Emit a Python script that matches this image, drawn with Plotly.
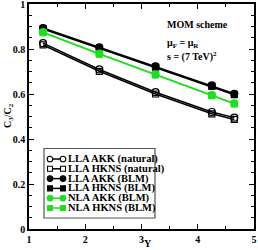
import plotly.graph_objects as go

# ---- data ----
rapidity = [1.25, 2.25, 3.25, 4.25, 4.65]
lla_akk_natural = [0.826, 0.709, 0.608, 0.520, 0.495]
lla_hkns_natural = [0.818, 0.701, 0.600, 0.512, 0.487]
lla_akk_blm = [0.893, 0.807, 0.723, 0.638, 0.601]
lla_hkns_blm = [0.889, 0.803, 0.719, 0.634, 0.597]
nla_akk_blm = [0.875, 0.779, 0.687, 0.595, 0.558]
nla_hkns_blm = [0.873, 0.777, 0.685, 0.593, 0.556]

series_names = ["LLA AKK (natural)", "LLA HKNS (natural)", "LLA AKK (BLM)",
                "LLA HKNS (BLM)", "NLA AKK (BLM)", "NLA HKNS (BLM)"]
series_values = [lla_akk_natural, lla_hkns_natural, lla_akk_blm,
                 lla_hkns_blm, nla_akk_blm, nla_hkns_blm]

GREEN = "#1ee01e"
styles = [
    dict(color="black", symbol="circle-open", fill="white", shape="circle"),
    dict(color="black", symbol="square-open", fill="white", shape="rect"),
    dict(color="black", symbol="circle", fill="black", shape="circle"),
    dict(color="black", symbol="square", fill="black", shape="rect"),
    dict(color=GREEN, symbol="circle", fill=GREEN, shape="circle"),
    dict(color=GREEN, symbol="square", fill=GREEN, shape="rect"),
]

FONT = "Liberation Serif"

fig = go.Figure()
draw_order = [1, 0, 3, 2, 5, 4]
for i in draw_order:
    st = styles[i]
    fig.add_trace(go.Scatter(
        x=rapidity, y=series_values[i], mode="lines+markers", name=series_names[i],
        showlegend=False,
        line=dict(color=st["color"], width=1.5),
        marker=dict(symbol=st["symbol"], size=7 if "circle" in st["symbol"] else 6,
                    color=st["fill"] if "open" not in st["symbol"] else st["color"],
                    line=dict(color=st["color"], width=1.2)),
    ))

# ---- plot geometry in pixels (for the hand-built legend) ----
W, H = 258, 250
L, R, T, B = 29, 4, 4, 21
pw, ph = W - L - R, H - T - B

def px_x(p):
    return (p - L) / pw

def px_y(p):
    return (H - B - p) / ph

shapes = []
annotations = []
# legend box
shapes.append(dict(type="rect", xref="paper", yref="paper",
                   x0=px_x(44), x1=px_x(155), y0=px_y(218), y1=px_y(148.5),
                   line=dict(color="#555555", width=1.2), fillcolor="white", layer="above"))
for i, name in enumerate(series_names):
    st = styles[i]
    yy = px_y(159 + 9.8 * i)
    xa, xb = px_x(50), px_x(63)
    shapes.append(dict(type="line", xref="paper", yref="paper", x0=xa, x1=xb, y0=yy, y1=yy,
                       line=dict(color=st["color"], width=1.5), layer="above"))
    r = 2.8 if st["shape"] == "circle" else 2.5
    for xc in (xa, xb):
        shapes.append(dict(type=st["shape"], xref="paper", yref="paper",
                           xsizemode="pixel", ysizemode="pixel", xanchor=xc, yanchor=yy,
                           x0=-r, x1=r, y0=-r, y1=r,
                           line=dict(color=st["color"], width=1.1),
                           fillcolor=st["fill"], layer="above"))
    annotations.append(dict(text="<b>" + name + "</b>", xref="paper", yref="paper",
                            x=px_x(66), y=yy, xanchor="left", yanchor="middle",
                            showarrow=False, font=dict(family=FONT, size=10.5, color="black")))

# text labels
annotations += [
    dict(text="<b>MOM scheme</b>", xref="paper", yref="paper", x=px_x(165), y=px_y(24),
         xanchor="left", yanchor="middle", showarrow=False,
         font=dict(family=FONT, size=10, color="black")),
    dict(text="<b>μ<sub>F</sub> = μ<sub>R</sub></b>", xref="paper", yref="paper", x=px_x(165),
         y=px_y(43), xanchor="left", yanchor="middle", showarrow=False,
         font=dict(family=FONT, size=10, color="black")),
    dict(text="<b>s = (7 TeV)<sup>2</sup></b>", xref="paper", yref="paper", x=px_x(165),
         y=px_y(56), xanchor="left", yanchor="middle", showarrow=False,
         font=dict(family=FONT, size=10, color="black")),
    # axis titles
    dict(text="<b>Y</b>", xref="paper", yref="paper", x=px_x(148), y=px_y(250),
         xanchor="center", yanchor="bottom", showarrow=False, borderpad=0,
         font=dict(family=FONT, size=10, color="black")),
    dict(text="<b>C<sub>3</sub>/C<sub>2</sub></b>", xref="paper", yref="paper", x=px_x(8),
         y=px_y(116), xanchor="center", yanchor="middle", showarrow=False, textangle=-90,
         font=dict(family=FONT, size=10, color="black")),
]

axis_common = dict(showgrid=False, zeroline=False, showline=True, linecolor="black", linewidth=1.5,
                   mirror="allticks", ticks="inside", ticklen=5, tickwidth=1.2, tickcolor="black",
                   automargin=False,
                   tickfont=dict(family=FONT, size=10, color="black", weight="bold"))

fig.update_layout(
    width=W, height=H,
    margin=dict(l=L, r=R, t=T, b=B, autoexpand=False),
    paper_bgcolor="white", plot_bgcolor="white",
    showlegend=False,
    shapes=shapes, annotations=annotations,
    xaxis=dict(range=[1, 5], dtick=1, tick0=1, ticklabeloverflow="allow",
               minor=dict(dtick=0.5, ticks="inside", ticklen=3, tickcolor="black", tickwidth=1),
               **axis_common),
    yaxis=dict(range=[0, 1], dtick=0.2, tick0=0, ticklabeloverflow="allow",
               minor=dict(dtick=0.05, ticks="inside", ticklen=3, tickcolor="black", tickwidth=1),
               **axis_common),
)

fig.write_html("out.html", config={"displayModeBar": False},
               post_script="document.body.style.margin='0';document.body.style.overflow='hidden';")
